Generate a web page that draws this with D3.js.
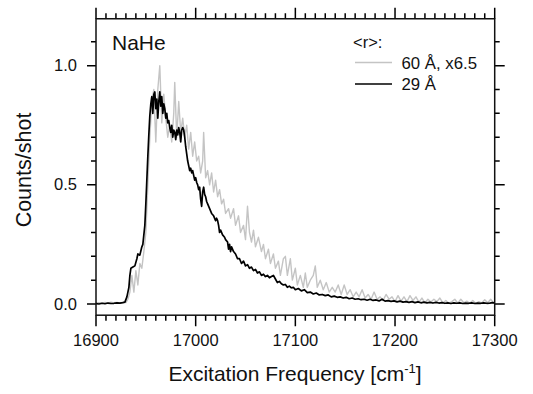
<!DOCTYPE html>
<html><head><meta charset="utf-8">
<script src="https://cdn.jsdelivr.net/npm/d3@7"></script>
<style>
body{margin:0;background:#fff;}
svg{display:block;font-family:"Liberation Sans",Arial,sans-serif;}
</style></head>
<body><svg id="c" width="533" height="394"></svg>
<script>
// ---- data ----
const xMajorTicks = [16900, 17000, 17100, 17200, 17300];
const xTickLabels = ["16900", "17000", "17100", "17200", "17300"];
const yMajorTicks = [0, 0.5, 1.0];
const yTickLabels = ["0.0", "0.5", "1.0"];
const xMinorTicks = [16910,16920,16930,16940,16950,16960,16970,16980,16990,17010,17020,17030,17040,17050,17060,17070,17080,17090,
                     17110,17120,17130,17140,17150,17160,17170,17180,17190,17210,17220,17230,17240,17250,17260,17270,17280,17290];
const yMinorTicks = [0.1,0.2,0.3,0.4,0.6,0.7,0.8,0.9,1.1];
const seriesNames = ["60 Å, x6.5", "29 Å"];

// 29 Å  [frequency cm^-1, counts/shot]
const black29 = [
[16900,0.002],[16903,0.000],[16906,0.003],[16909,0.001],[16912,0.004],[16915,0.002],[16918,0.003],[16921,0.005],[16924,0.004],[16927,0.006],
[16929,0.008],[16931,0.03],[16933,0.07],[16934,0.12],[16935,0.15],[16937,0.155],[16939,0.16],[16941,0.19],[16942,0.21],[16944,0.205],
[16946,0.24],[16947,0.25],[16949,0.33],[16950,0.42],[16951,0.52],[16952,0.62],[16953,0.71],[16954,0.79],[16955,0.84],[16956,0.87],
[16957,0.80],[16958,0.88],[16959,0.89],[16960,0.82],[16961,0.86],[16962,0.78],[16963,0.85],[16964,0.89],[16965,0.83],[16966,0.87],
[16967,0.80],[16968,0.84],[16969,0.82],[16970,0.78],[16971,0.80],[16972,0.76],[16973,0.77],[16974,0.74],[16975,0.72],[16976,0.75],
[16977,0.70],[16978,0.73],[16979,0.72],[16980,0.69],[16981,0.73],[16982,0.71],[16983,0.74],[16984,0.72],[16985,0.68],[16986,0.73],
[16987,0.74],[16988,0.73],[16989,0.70],[16990,0.66],[16991,0.63],[16992,0.60],[16993,0.58],[16994,0.56],[16995,0.57],[16996,0.55],
[16997,0.56],[16998,0.54],[16999,0.52],[17000,0.53],[17001,0.51],[17002,0.50],[17003,0.48],[17004,0.49],[17005,0.44],[17006,0.41],
[17007,0.47],[17008,0.49],[17009,0.46],[17010,0.45],[17011,0.43],[17012,0.42],[17014,0.40],[17016,0.38],[17018,0.37],[17020,0.35],
[17021,0.36],[17022,0.35],[17023,0.33],[17024,0.30],[17025,0.31],[17027,0.29],[17029,0.28],[17030,0.27],[17032,0.26],[17033,0.23],
[17034,0.25],[17035,0.22],[17036,0.24],[17038,0.22],[17040,0.21],[17042,0.19],[17044,0.19],[17046,0.17],[17048,0.18],[17050,0.16],
[17052,0.165],[17054,0.15],[17056,0.155],[17058,0.14],[17060,0.145],[17062,0.13],[17064,0.135],[17066,0.12],[17068,0.125],[17070,0.115],
[17072,0.12],[17074,0.11],[17076,0.115],[17078,0.12],[17080,0.105],[17082,0.09],[17084,0.095],[17086,0.085],[17088,0.08],[17090,0.082],
[17092,0.07],[17094,0.075],[17096,0.068],[17098,0.07],[17100,0.06],[17103,0.065],[17106,0.055],[17109,0.06],[17112,0.048],[17115,0.05],
[17118,0.042],[17121,0.046],[17124,0.038],[17127,0.04],[17130,0.035],[17133,0.038],[17136,0.03],[17139,0.033],[17142,0.028],[17145,0.03],
[17148,0.025],[17151,0.028],[17154,0.022],[17157,0.025],[17160,0.02],[17163,0.022],[17166,0.018],[17169,0.02],[17172,0.016],[17175,0.02],
[17178,0.015],[17181,0.017],[17184,0.013],[17187,0.02],[17190,0.012],[17193,0.014],[17196,0.011],[17199,0.013],[17202,0.009],[17205,0.012],
[17208,0.008],[17211,0.01],[17214,0.007],[17217,0.01],[17220,0.006],[17223,0.009],[17226,0.005],[17229,0.008],[17232,0.005],[17235,0.007],
[17238,0.004],[17241,0.007],[17244,0.004],[17247,0.006],[17250,0.003],[17253,0.005],[17256,0.002],[17259,0.005],[17262,0.003],[17265,0.005],
[17268,0.002],[17271,0.004],[17274,0.003],[17277,0.005],[17280,0.002],[17283,0.004],[17286,0.003],[17289,0.005],[17292,0.003],[17295,0.004],
[17298,0.006],[17300,0.004]
];

// 60 Å, x6.5
const gray60 = [
[16900,0.004],[16903,0.006],[16906,0.003],[16909,0.007],[16912,0.004],[16915,0.008],[16918,0.005],[16921,0.007],[16924,0.004],[16927,0.008],
[16930,0.006],[16932,0.02],[16934,0.05],[16936,0.12],[16938,0.05],[16940,0.14],[16942,0.08],[16944,0.17],[16946,0.15],[16948,0.22],
[16950,0.30],[16952,0.50],[16954,0.70],[16956,0.85],[16958,0.90],[16960,0.68],[16962,0.90],[16964,1.00],[16966,0.76],[16968,0.88],
[16970,0.78],[16972,0.70],[16974,0.75],[16976,0.68],[16978,0.80],[16979,0.93],[16981,0.70],[16983,0.85],[16985,0.72],[16987,0.78],
[16989,0.70],[16991,0.75],[16993,0.65],[16995,0.72],[16997,0.62],[16999,0.68],[17001,0.60],[17003,0.62],[17005,0.55],[17007,0.60],
[17008,0.72],[17010,0.53],[17012,0.56],[17014,0.50],[17016,0.55],[17018,0.47],[17020,0.52],[17022,0.45],[17024,0.48],[17026,0.42],
[17028,0.44],[17030,0.38],[17033,0.40],[17035,0.36],[17038,0.40],[17040,0.33],[17043,0.37],[17045,0.30],[17048,0.33],[17050,0.27],
[17052,0.41],[17054,0.30],[17056,0.26],[17058,0.31],[17060,0.24],[17063,0.28],[17066,0.22],[17068,0.25],[17070,0.19],[17073,0.23],
[17075,0.17],[17078,0.21],[17080,0.15],[17083,0.18],[17085,0.12],[17088,0.19],[17090,0.20],[17092,0.12],[17095,0.19],[17097,0.10],
[17100,0.15],[17102,0.08],[17105,0.12],[17108,0.07],[17110,0.13],[17112,0.07],[17115,0.10],[17118,0.12],[17120,0.16],[17122,0.07],
[17125,0.10],[17128,0.06],[17131,0.09],[17134,0.05],[17137,0.07],[17140,0.05],[17143,0.08],[17146,0.04],[17149,0.08],[17152,0.04],
[17155,0.06],[17158,0.03],[17161,0.05],[17164,0.03],[17167,0.06],[17170,0.025],[17173,0.04],[17176,0.02],[17179,0.05],[17182,0.02],
[17185,0.03],[17188,0.015],[17191,0.04],[17194,0.02],[17197,0.03],[17200,0.01],[17203,0.035],[17206,0.012],[17209,0.03],[17212,0.01],
[17215,0.035],[17218,0.015],[17221,0.03],[17224,0.008],[17227,0.025],[17230,0.005],[17233,0.02],[17236,0.008],[17239,0.02],[17242,0.01],
[17245,0.025],[17248,0.005],[17251,0.015],[17254,0.003],[17257,0.01],[17260,0.02],[17263,0.003],[17266,0.02],[17269,0.005],[17272,0.012],
[17275,0.003],[17278,0.015],[17281,0.002],[17284,0.01],[17287,0.004],[17290,0.018],[17293,0.005],[17296,0.02],[17299,0.003]
];

// ---- drawing ----
const svg = d3.select("#c");
const FONT = "Liberation Sans, Arial, sans-serif";
const INK = "#111111";
const x = d3.scaleLinear().domain([16900, 17300]).range([96, 494.7]);
const y = d3.scaleLinear().domain([0, 1]).range([304, 65.7]);
const yTopVal = 1.197, yBotVal = -0.047;
const pLeft = x(16900), pRight = x(17300), pTop = y(yTopVal), pBottom = y(yBotVal);

svg.append("clipPath").attr("id","clip").append("rect")
  .attr("x", pLeft).attr("y", pTop).attr("width", pRight-pLeft).attr("height", pBottom-pTop);

const line = d3.line().x(d => x(d[0])).y(d => y(d[1]));
const g = svg.append("g").attr("clip-path","url(#clip)");
g.append("path").datum(gray60).attr("d", line).attr("fill","none")
  .attr("stroke","#c4c4c4").attr("stroke-width",1.4).attr("stroke-linejoin","round");
g.append("path").datum(black29).attr("d", line).attr("fill","none")
  .attr("stroke","#000").attr("stroke-width",1.7).attr("stroke-linejoin","round");

// ticks, built as one path from the scales
const tp = d3.path();
function addX(vals, len){
  vals.forEach(v => {
    const px = x(v);
    tp.moveTo(px, pBottom); tp.lineTo(px, pBottom + len);
    tp.moveTo(px, pTop); tp.lineTo(px, pTop - len);
  });
}
function addY(vals, lenL, lenR){
  vals.forEach(v => {
    const py = y(v);
    tp.moveTo(pLeft - lenL, py); tp.lineTo(pLeft, py);
    tp.moveTo(pRight, py); tp.lineTo(pRight + lenR, py);
  });
}
addX(xMinorTicks, 5.5);
addX(xMajorTicks, 11);
addY(yMinorTicks, 5, 5);
addY(yMajorTicks, 9, 10);
svg.append("path").attr("d", tp.toString()).attr("fill","none")
  .attr("stroke", "#000").attr("stroke-width", 1.5);

// tick labels
svg.append("g").selectAll("text").data(xMajorTicks).join("text")
  .attr("x", d => x(d)).attr("y", 345.5).attr("text-anchor","middle")
  .attr("font-family",FONT).attr("font-size",16.5).attr("fill",INK)
  .text((d,i) => xTickLabels[i]);
svg.append("g").selectAll("text").data(yMajorTicks).join("text")
  .attr("x", pLeft - 19).attr("y", d => y(d) + 5.5).attr("text-anchor","end")
  .attr("font-family",FONT).attr("font-size",16.5).attr("fill",INK)
  .text((d,i) => yTickLabels[i]);

// frame
svg.append("rect").attr("x",pLeft).attr("y",pTop).attr("width",pRight-pLeft).attr("height",pBottom-pTop)
  .attr("fill","none").attr("stroke",INK).attr("stroke-width",1.5);

// axis titles
const xt = svg.append("text").attr("x",295).attr("y",381).attr("text-anchor","middle")
  .attr("font-family",FONT).attr("font-size",21).attr("fill",INK);
xt.append("tspan").text("Excitation Frequency [cm");
xt.append("tspan").attr("dy",-8).attr("font-size",13).text("-1");
xt.append("tspan").attr("dy",8).text("]");

svg.append("text").attr("transform","translate(31,170) rotate(-90)").attr("text-anchor","middle")
  .attr("font-family",FONT).attr("font-size",21.5).attr("fill",INK).text("Counts/shot");

// label
svg.append("text").attr("x",112).attr("y",50).attr("font-family",FONT).attr("font-size",21)
  .attr("fill",INK).text("NaHe");

// legend
svg.append("text").attr("x",353).attr("y",48).attr("font-family",FONT).attr("font-size",16.5)
  .attr("fill",INK).text("<r>:");
const legColors = ["#c4c4c4", "#000"];
const legY = [62.5, 84];
const legTextY = [69, 90];
seriesNames.forEach((name,i)=>{
  svg.append("line").attr("x1",355).attr("x2",392).attr("y1",legY[i]).attr("y2",legY[i])
    .attr("stroke",legColors[i]).attr("stroke-width",i===0?1.4:1.7);
  svg.append("text").attr("x",401.5).attr("y",legTextY[i]).attr("font-family",FONT)
    .attr("font-size",16.8).attr("fill",INK).text(name);
});
</script></body></html>
